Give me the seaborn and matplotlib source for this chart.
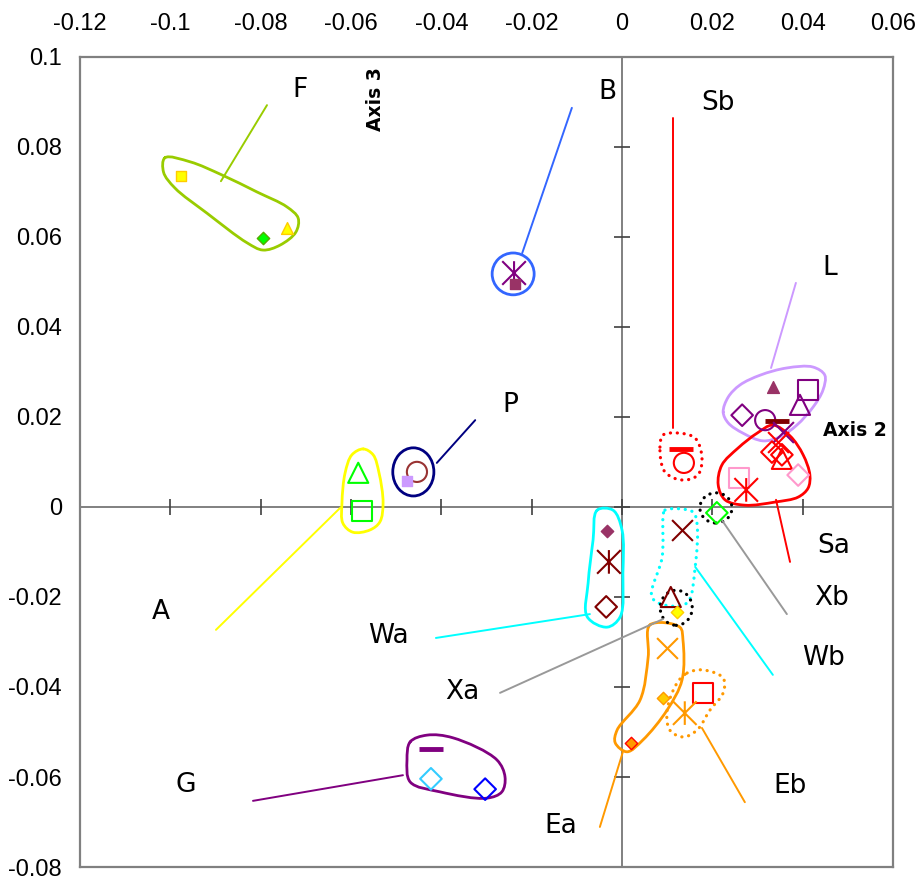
import numpy as np
import pandas as pd
import matplotlib
matplotlib.use("Agg")
import matplotlib.pyplot as plt
from matplotlib.path import Path
from matplotlib.patches import PathPatch, Ellipse
import seaborn as sns

# ---------------- data ----------------
x_ticks = [-0.12, -0.10, -0.08, -0.06, -0.04, -0.02, 0.0, 0.02, 0.04, 0.06]
x_tick_labels = ["-0.12", "-0.1", "-0.08", "-0.06", "-0.04", "-0.02", "0", "0.02", "0.04", "0.06"]
y_ticks = [-0.08, -0.06, -0.04, -0.02, 0.0, 0.02, 0.04, 0.06, 0.08, 0.10]
y_tick_labels = ["-0.08", "-0.06", "-0.04", "-0.02", "0", "0.02", "0.04", "0.06", "0.08", "0.1"]

# points (group, x, y, shape, colour, filled?)
pt_group = ["F", "F", "F", "B", "B", "A", "A", "P", "P", "Sb", "Sb",
            "L", "L", "L", "L", "L", "L", "L",
            "Sa", "Sa", "Sa", "Sa", "Sa", "Sa", "Sa",
            "Xb", "Wb", "Wb", "Xa", "Wa", "Wa", "Wa",
            "Ea", "Ea", "Ea", "Eb", "Eb", "G", "G", "G"]
pt_x = [-0.0976, -0.0795, -0.0742, -0.0239, -0.0237, -0.0584, -0.0576, -0.0454, -0.0476, 0.0130, 0.0137,
        0.0334, 0.0412, 0.0394, 0.0266, 0.0317, 0.0343, 0.0356,
        0.0345, 0.0332, 0.0354, 0.0354, 0.0259, 0.0275, 0.0390,
        0.0210, 0.0133, 0.0108, 0.0122, -0.0033, -0.0029, -0.0035,
        0.0100, 0.0091, 0.0020, 0.0179, 0.0139, -0.0423, -0.0423, -0.0303]
pt_y = [0.0736, 0.0598, 0.0620, 0.0520, 0.0496, 0.0076, -0.0009, 0.0078, 0.0058, 0.0129, 0.0098,
        0.0267, 0.0260, 0.0227, 0.0204, 0.0193, 0.0191, 0.0167,
        0.0144, 0.0122, 0.0116, 0.0107, 0.0064, 0.0038, 0.0071,
        -0.0013, -0.0051, -0.0200, -0.0233, -0.0053, -0.0122, -0.0222,
        -0.0313, -0.0424, -0.0524, -0.0413, -0.0458, -0.0538, -0.0604, -0.0627]
pt_shape = ["square", "diamond", "triangle", "asterisk", "square", "triangle", "square", "circle", "square", "bar", "circle",
            "triangle", "square", "triangle", "diamond", "circle", "bar", "x",
            "x", "diamond", "diamond", "triangle", "square", "asterisk", "diamond",
            "diamond", "x", "triangle", "diamond", "diamond", "asterisk", "diamond",
            "x", "diamond", "diamond", "square", "asterisk", "bar", "diamond", "diamond"]
pt_color = ["#FFFF00", "#00FF00", "#FFFF00", "#800080", "#993366", "#00FF00", "#00FF00", "#993333", "#CC99FF", "#FF0000", "#FF0000",
            "#993366", "#800080", "#800080", "#800080", "#800080", "#800000", "#800080",
            "#FF0000", "#FF0000", "#FF0000", "#FF0000", "#FF99CC", "#FF0000", "#FF99CC",
            "#00FF00", "#800000", "#800000", "#FFFF00", "#993366", "#800000", "#800000",
            "#FF9900", "#FFCC00", "#FF9900", "#FF0000", "#FF9900", "#800080", "#33CCFF", "#0000FF"]
pt_edge = ["#FFCC00", "#55AA00", "#FFCC00", None, "#993366", None, None, None, "#CC99FF", None, None,
           "#993366", None, None, None, None, None, None,
           None, None, None, None, None, None, None,
           None, None, None, "#FFCC00", "#993366", None, None,
           None, "#FF9900", "#FF0000", None, None, None, None, None]
pt_filled = [True, True, True, False, True, False, False, False, True, False, False,
             True, False, False, False, False, False, False,
             False, False, False, False, False, False, False,
             False, False, False, True, True, False, False,
             False, True, True, False, False, False, False, False]

# group outlines (closed smooth curves through these vertices)
outline_F_x = [-0.1012, -0.0956, -0.0886, -0.0808, -0.0742, -0.0717, -0.0722, -0.0757, -0.0795, -0.0830, -0.0919, -0.0990, -0.1015]
outline_F_y = [0.0776, 0.0767, 0.0738, 0.0700, 0.0667, 0.0642, 0.0611, 0.0582, 0.0571, 0.0587, 0.0653, 0.0709, 0.0744]
outline_A_x = [-0.0573, -0.0551, -0.0538, -0.0529, -0.0536, -0.0558, -0.0596, -0.0618, -0.0620, -0.0613, -0.0598]
outline_A_y = [0.0129, 0.0116, 0.0076, 0.0009, -0.0033, -0.0051, -0.0056, -0.0036, 0.0009, 0.0076, 0.0116]
outline_L_x = [0.0224, 0.0235, 0.0261, 0.0306, 0.0365, 0.0423, 0.0449, 0.0445, 0.0423, 0.0387, 0.0350, 0.0312, 0.0268, 0.0235]
outline_L_y = [0.0211, 0.0244, 0.0271, 0.0293, 0.0309, 0.0311, 0.0293, 0.0260, 0.0222, 0.0182, 0.0156, 0.0147, 0.0164, 0.0187]
outline_Sa_x = [0.0334, 0.0372, 0.0401, 0.0416, 0.0412, 0.0390, 0.0339, 0.0272, 0.0228, 0.0213, 0.0221, 0.0257, 0.0299]
outline_Sa_y = [0.0182, 0.0158, 0.0116, 0.0071, 0.0042, 0.0022, 0.0011, 0.0004, 0.0016, 0.0049, 0.0093, 0.0131, 0.0164]
outline_Sb_x = [0.0084, 0.0091, 0.0128, 0.0162, 0.0177, 0.0168, 0.0133, 0.0095]
outline_Sb_y = [0.0133, 0.0160, 0.0164, 0.0153, 0.0111, 0.0071, 0.0060, 0.0078]
outline_Wb_x = [0.0095, 0.0157, 0.0166, 0.0162, 0.0144, 0.0095, 0.0066, 0.0089, 0.0091]
outline_Wb_y = [-0.0007, -0.0011, -0.0036, -0.0133, -0.0213, -0.0218, -0.0200, -0.0111, -0.0022]
outline_Wa_x = [-0.0055, -0.0020, 0.0000, 0.0002, -0.0004, -0.0033, -0.0077, -0.0075, -0.0064]
outline_Wa_y = [-0.0007, -0.0007, -0.0051, -0.0147, -0.0244, -0.0267, -0.0244, -0.0169, -0.0073]
outline_Ea_x = [0.0062, 0.0128, 0.0135, 0.0133, 0.0100, 0.0046, 0.0011, -0.0015, -0.0011, 0.0040, 0.0058]
outline_Ea_y = [-0.0262, -0.0267, -0.0296, -0.0384, -0.0451, -0.0518, -0.0544, -0.0524, -0.0496, -0.0429, -0.0333]
outline_Eb_x = [0.0144, 0.0179, 0.0224, 0.0224, 0.0195, 0.0166, 0.0135, 0.0106, 0.0100, 0.0122]
outline_Eb_y = [-0.0369, -0.0362, -0.0380, -0.0413, -0.0451, -0.0496, -0.0511, -0.0496, -0.0451, -0.0391]
outline_G_x = [-0.0469, -0.0432, -0.0374, -0.0277, -0.0259, -0.0266, -0.0299, -0.0403, -0.0469, -0.0476]
outline_G_y = [-0.0522, -0.0507, -0.0513, -0.0562, -0.0600, -0.0633, -0.0647, -0.0633, -0.0611, -0.0562]

# elliptical outlines: centre x, centre y, width, height
ellipse_names = ["B", "P", "Xb", "Xa"]
ellipse_cx = [-0.0241, -0.0462, 0.0208, 0.0120]
ellipse_cy = [0.0518, 0.0078, -0.0002, -0.0224]
ellipse_w = [0.0093, 0.0091, 0.0071, 0.0071]
ellipse_h = [0.0093, 0.0107, 0.0067, 0.0078]

# group labels and leader lines
label_names = ["F", "B", "Sb", "L", "P", "A", "Sa", "Xb", "Wb", "Wa", "Xa", "G", "Eb", "Ea"]
label_x = [-0.0713, -0.0033, 0.0213, 0.0460, -0.0248, -0.1021, 0.0469, 0.0465, 0.0447, -0.0518, -0.0354, -0.0965, 0.0372, -0.0135]
label_y = [0.0927, 0.0922, 0.0898, 0.0531, 0.0227, -0.0233, -0.0087, -0.0202, -0.0336, -0.0287, -0.0411, -0.0618, -0.0620, -0.0709]
leader_x0 = [-0.0888, -0.0221, 0.0113, 0.0330, -0.0410, -0.0624, 0.0341, 0.0221, 0.0162, -0.0071, 0.0091, -0.0485, 0.0177, 0.0002]
leader_y0 = [0.0724, 0.0564, 0.0176, 0.0309, 0.0098, -0.0002, 0.0016, -0.0029, -0.0133, -0.0238, -0.0249, -0.0596, -0.0491, -0.0544]
leader_x1 = [-0.0786, -0.0111, 0.0113, 0.0385, -0.0325, -0.0899, 0.0372, 0.0365, 0.0334, -0.0412, -0.0270, -0.0817, 0.0272, -0.0049]
leader_y1 = [0.0893, 0.0887, 0.0864, 0.0498, 0.0193, -0.0273, -0.0122, -0.0238, -0.0373, -0.0291, -0.0413, -0.0653, -0.0656, -0.0711]

axis_titles = ["Axis 3", "Axis 2"]
axis_title_x = [-0.0545, 0.0516]
axis_title_y = [0.0907, 0.0171]

# ---------------- styles ----------------
group_color = {"F": "#99CC00", "B": "#3366FF", "A": "#FFFF00", "P": "#000080", "Sb": "#FF0000",
               "L": "#CC99FF", "Sa": "#FF0000", "Xb": "#999999", "Wb": "#00FFFF", "Xa": "#999999",
               "Wa": "#00FFFF", "Ea": "#FF9900", "Eb": "#FF9900", "G": "#800080"}
outline_color = dict(group_color, Xb="#000000", Xa="#000000")
dotted = {"Sb", "Xb", "Xa", "Wb", "Eb"}
DOT = (0, (0.05, 2.1))

ast_path = Path([(0, -1), (0, 1), (-1, -1), (1, 1), (-1, 1), (1, -1)],
                [Path.MOVETO, Path.LINETO, Path.MOVETO, Path.LINETO, Path.MOVETO, Path.LINETO])
shape_marker = {"square": "s", "diamond": "D", "triangle": "^", "circle": "o", "x": "x", "bar": "_", "asterisk": ast_path}
open_size = {"square": 14.5, "diamond": 11, "triangle": 14.5, "circle": 14.5, "x": 15, "bar": 17, "asterisk": 17}
filled_size = {"square": 7.5, "diamond": 6.3, "triangle": 8.5}

# ---------------- figure ----------------
sns.set_theme(style="white")
plt.rcParams["font.family"] = ["DejaVu Sans"]

W, H = 920, 881
fig = plt.figure(figsize=(W / 100, H / 100), dpi=100)
ax = fig.add_axes([80 / W, 1 - 867 / H, 813 / W, 810 / H])
ax.set_xlim(-0.12, 0.06)
ax.set_ylim(-0.08, 0.10)

for s in ax.spines.values():
    s.set_color("#808080")
    s.set_linewidth(1.6)

ax.xaxis.tick_top()
ax.set_xticks(x_ticks)
ax.set_xticklabels(x_tick_labels, family="Liberation Sans", fontsize=17)
ax.set_yticks(y_ticks)
ax.set_yticklabels(y_tick_labels, family="Liberation Sans", fontsize=17)
ax.tick_params(axis="x", length=0, pad=16, colors="black")
ax.tick_params(axis="y", length=0, pad=13, colors="black")
ax.grid(False)

# central axes with crossing ticks
ax.axhline(0, color="#808080", lw=1.4, zorder=1)
ax.axvline(0, color="#808080", lw=1.4, zorder=1)
ax.plot(x_ticks, [0] * len(x_ticks), ls="none", marker="|", ms=12, mew=1.2, color="#404040", zorder=1)
ax.plot([0] * len(y_ticks), y_ticks, ls="none", marker="_", ms=12, mew=1.2, color="#404040", zorder=1)


def smooth_closed(xs, ys):
    """Centripetal Catmull-Rom closed curve through the vertices, as cubic Bezier path."""
    pts = np.column_stack([xs, ys]).astype(float)
    n = len(pts)
    verts = [pts[0]]
    codes = [Path.MOVETO]
    for i in range(n):
        p0, p1, p2, p3 = pts[(i - 1) % n], pts[i], pts[(i + 1) % n], pts[(i + 2) % n]
        d1 = np.linalg.norm(p1 - p0) ** 0.5 + 1e-12
        d2 = np.linalg.norm(p2 - p1) ** 0.5 + 1e-12
        d3 = np.linalg.norm(p3 - p2) ** 0.5 + 1e-12
        c1 = (d1 ** 2 * p2 - d2 ** 2 * p0 + (2 * d1 ** 2 + 3 * d1 * d2 + d2 ** 2) * p1) / (3 * d1 * (d1 + d2))
        c2 = (d3 ** 2 * p1 - d2 ** 2 * p3 + (2 * d3 ** 2 + 3 * d3 * d2 + d2 ** 2) * p2) / (3 * d3 * (d3 + d2))
        verts += [c1, c2, p2]
        codes += [Path.CURVE4] * 3
    return Path(verts, codes)


outlines = {"F": (outline_F_x, outline_F_y), "A": (outline_A_x, outline_A_y), "L": (outline_L_x, outline_L_y),
            "Sa": (outline_Sa_x, outline_Sa_y), "Sb": (outline_Sb_x, outline_Sb_y), "Wb": (outline_Wb_x, outline_Wb_y),
            "Wa": (outline_Wa_x, outline_Wa_y), "Ea": (outline_Ea_x, outline_Ea_y), "Eb": (outline_Eb_x, outline_Eb_y),
            "G": (outline_G_x, outline_G_y)}
for name, (xs, ys) in outlines.items():
    ls = DOT if name in dotted else "-"
    lw = 2.3 if name in dotted else 2.0
    ax.add_patch(PathPatch(smooth_closed(xs, ys), fill=False, edgecolor=outline_color[name],
                           lw=lw, ls=ls, zorder=2, capstyle="round"))

for name, cx, cy, w, h in zip(ellipse_names, ellipse_cx, ellipse_cy, ellipse_w, ellipse_h):
    ls = DOT if name in dotted else "-"
    lw = 2.3 if name in dotted else 2.0
    ax.add_patch(Ellipse((cx, cy), w, h, fill=False, edgecolor=outline_color[name], lw=lw, ls=ls,
                         zorder=2, capstyle="round"))

# leader lines
for name, x0, y0, x1, y1 in zip(label_names, leader_x0, leader_y0, leader_x1, leader_y1):
    ax.plot([x0, x1], [y0, y1], color=group_color[name], lw=1.4, zorder=2)

# markers
pts = pd.DataFrame({"group": pt_group, "x": pt_x, "y": pt_y, "shape": pt_shape,
                    "color": pt_color, "edge": pt_edge, "filled": pt_filled})
for i, r in pts.iterrows():
    m = shape_marker[r["shape"]]
    one = pts.iloc[[i]]
    if r["filled"]:
        ms = filled_size[r["shape"]]
        sns.scatterplot(data=one, x="x", y="y", ax=ax, marker=m, s=ms ** 2, color=r["color"],
                        edgecolor=r["edge"], linewidth=1.0, zorder=4, legend=False)
    elif r["shape"] in ("x", "bar"):
        ms = open_size[r["shape"]]
        lw = 3.5 if r["shape"] == "bar" else 1.5
        sns.scatterplot(data=one, x="x", y="y", ax=ax, marker=m, s=ms ** 2, color=r["color"],
                        linewidth=lw, zorder=4, legend=False)
    else:
        ms = open_size[r["shape"]]
        sns.scatterplot(data=one, x="x", y="y", ax=ax, marker=m, s=ms ** 2, color=r["color"],
                        facecolor="none", edgecolor=r["color"], linewidth=1.5, zorder=4, legend=False)

ax.set_xlabel("")
ax.set_ylabel("")

# labels
for name, lx, ly in zip(label_names, label_x, label_y):
    ax.text(lx, ly, name, fontsize=19, ha="center", va="center", color="black", family="DejaVu Sans")

ax.text(axis_title_x[0], axis_title_y[0], axis_titles[0], fontsize=13.5, fontweight="bold", rotation=90,
        ha="center", va="center", color="black")
ax.text(axis_title_x[1], axis_title_y[1], axis_titles[1], fontsize=13.5, fontweight="bold",
        ha="center", va="center", color="black")

fig.savefig("out.png", dpi=100)
